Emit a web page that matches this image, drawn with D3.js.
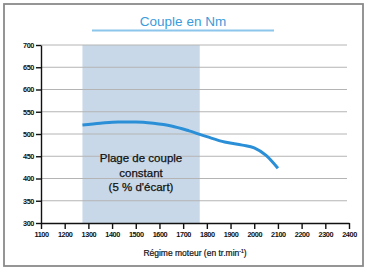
<!DOCTYPE html>
<html>

<head>
  <meta charset="UTF-8">
  <style>
    body { margin: 0; background: #fff; }
    svg { display: block; font-family: "Liberation Sans", Arial, sans-serif; }
    .axis text { font-size: 7.3px; fill: #111; font-weight: bold; }
    .axis path, .axis line { stroke: #111; stroke-width: 1.4; }
  </style>
</head>

<body>
  <svg></svg>
  <script src="https://d3js.org/d3.v7.min.js"></script>

  <script>

    let width = 366, height = 270;

    // data
    let rpm = [1275, 1350, 1425, 1500, 1575, 1650, 1725, 1800, 1875, 1950, 2000, 2050, 2100];
    let torque = [520, 524, 527, 527, 524, 518, 507, 494, 482, 475, 469, 452, 423];
    let xTicks = [1100, 1200, 1300, 1400, 1500, 1600, 1700, 1800, 1900, 2000, 2100, 2200, 2300, 2400];
    let yTicks = [300, 350, 400, 450, 500, 550, 600, 650, 700];
    let band = [1275, 1770];
    let bandLabel = ["Plage de couple", "constant", "(5 % d'écart)"];

    let svg = d3.select("svg")
      .attr("width", width)
      .attr("height", height)
      .attr("viewBox", "0 0 " + width + " " + height);

    // frame
    svg.append("rect")
      .attr("x", 4).attr("y", 4)
      .attr("width", 359).attr("height", 262)
      .attr("fill", "none")
      .attr("stroke", "#8a8a8a")
      .attr("stroke-width", 1.8);

    let x = d3.scaleLinear().domain([1100, 2400]).range([41, 349]);
    let y = d3.scaleLinear().domain([300, 700]).range([223, 45]);

    // title
    svg.append("text")
      .attr("x", 183).attr("y", 26)
      .attr("text-anchor", "middle")
      .attr("font-size", 13.5)
      .attr("fill", "#3b9bdb")
      .text("Couple en Nm");

    svg.append("line")
      .attr("x1", 92).attr("x2", 274)
      .attr("y1", 30.5).attr("y2", 30.5)
      .attr("stroke", "#8cc6ec")
      .attr("stroke-width", 1.8);

    // shaded range
    svg.append("rect")
      .attr("x", x(band[0]))
      .attr("y", y(700))
      .attr("width", x(band[1]) - x(band[0]))
      .attr("height", y(300) - y(700))
      .attr("fill", "#c8d8e8");

    // grid
    svg.append("g")
      .selectAll("line")
      .data(yTicks.slice(1))
      .enter()
      .append("line")
      .attr("x1", x(1100)).attr("x2", 347)
      .attr("y1", d => y(d)).attr("y2", d => y(d))
      .attr("stroke", "#b4b4b4")
      .attr("stroke-width", 1);

    // band text
    svg.append("text")
      .attr("x", 141)
      .attr("text-anchor", "middle")
      .attr("font-size", 11.5)
      .attr("fill", "#111")
      .attr("stroke", "#111")
      .attr("stroke-width", 0.25)
      .selectAll("tspan")
      .data(bandLabel)
      .enter()
      .append("tspan")
      .attr("x", 141)
      .attr("y", (d, i) => 162 + i * 14.5)
      .text(d => d);

    // curve
    let line = d3.line()
      .x((d, i) => x(rpm[i]))
      .y(d => y(d))
      .curve(d3.curveMonotoneX);

    svg.append("path")
      .datum(torque)
      .attr("d", line)
      .attr("fill", "none")
      .attr("stroke", "#2a8fd7")
      .attr("stroke-width", 3)
      .attr("stroke-linecap", "butt");

    // axes
    svg.append("g")
      .attr("class", "axis")
      .attr("transform", "translate(0," + y(300) + ")")
      .call(d3.axisBottom(x).tickValues(xTicks).tickFormat(d3.format("d"))
        .tickSize(6).tickSizeOuter(0).tickPadding(3))
      .call(g => g.selectAll("text").attr("letter-spacing", -0.4));

    svg.append("g")
      .attr("class", "axis")
      .attr("transform", "translate(" + x(1100) + ",0)")
      .call(d3.axisLeft(y).tickValues(yTicks).tickFormat(d3.format("d"))
        .tickSize(5).tickSizeOuter(0).tickPadding(2))
      .call(g => g.selectAll("text").attr("letter-spacing", -0.4));

    // x axis title
    let t = svg.append("text")
      .attr("x", 195).attr("y", 256)
      .attr("text-anchor", "middle")
      .attr("font-size", 8.5)
      .attr("fill", "#111")
      .attr("stroke", "#111")
      .attr("stroke-width", 0.2);
    t.append("tspan").text("Régime moteur (en tr.min");
    t.append("tspan").attr("font-size", 5).attr("dy", -3).text("-1");
    t.append("tspan").attr("dy", 3).text(")");

  </script>

</body>

</html>
